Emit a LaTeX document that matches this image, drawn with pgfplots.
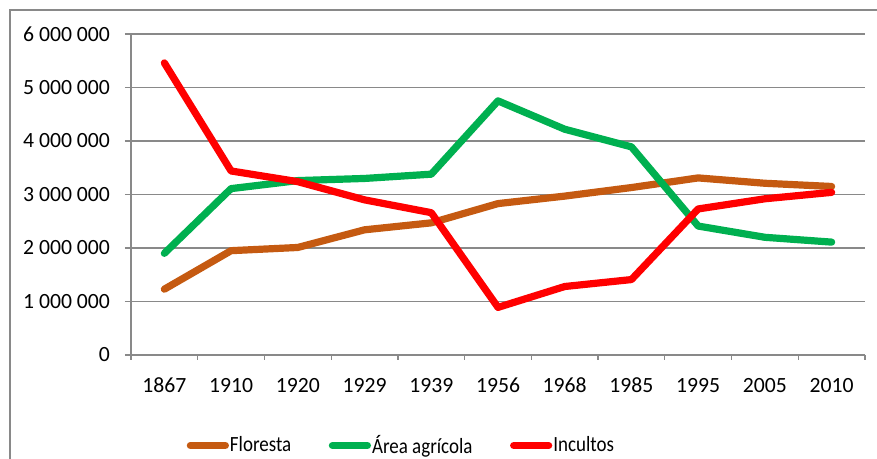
\documentclass[border=0pt]{standalone}
\usepackage{fontspec}
\setmainfont{Carlito}
\usepackage{graphicx}
\usepackage{pgfplots}
\pgfplotsset{compat=1.18}
\definecolor{cflor}{HTML}{C55A11}
\definecolor{cagr}{HTML}{00B050}
\definecolor{cinc}{HTML}{FF0000}
\definecolor{cgrid}{HTML}{898989}
\newcommand{\legtext}[1]{\scalebox{0.875}[1]{#1}}
\begin{document}
\begin{tikzpicture}
\useasboundingbox (0,0) rectangle (438.5pt,229.5pt);
\draw[cgrid, line width=0.6pt] (5pt,0) -- (5pt,224.5pt) -- (438.5pt,224.5pt);
\begin{axis}[
  at={(65.5pt,52pt)}, anchor=south west,
  scale only axis, width=367pt, height=160.5pt,
  xmin=-0.5, xmax=10.5, ymin=0, ymax=6000000,
  scaled y ticks=false,
  axis x line=bottom, axis y line=left,
  axis line style={cgrid, line width=0.6pt, -},
  xtick={0,...,10},
  xticklabels={1867,1910,1920,1929,1939,1956,1968,1985,1995,2005,2010},
  minor xtick={-0.5,0.5,...,10.5},
  major x tick style={draw=none},
  minor x tick style={cgrid, line width=0.6pt},
  minor tick length=2.5pt,
  ytick={0,1000000,...,6000000},
  yticklabels={0,1~000~000,2~000~000,3~000~000,4~000~000,5~000~000,6~000~000},
  y tick style={cgrid, line width=0.6pt},
  major tick length=3pt,
  tick align=outside,
  ymajorgrids, grid style={cgrid, line width=0.6pt},
  tick label style={font=\fontsize{10.85}{13}\selectfont, text=black},
  yticklabel style={xshift=-4pt},
  xticklabel style={yshift=-5pt},
  legend style={at={(axis description cs:0.367,-0.282)}, anchor=center, draw=none,
    font=\fontsize{10.85}{13}\selectfont, legend columns=3,
    nodes={inner sep=0pt},
    /tikz/every odd column/.append style={column sep=0.5pt},
    /tikz/every even column/.append style={column sep=18.75pt}},
  legend image code/.code={\draw[#1, line cap=round] (0pt,0pt) -- (17.5pt,0pt);},
  every axis plot/.append style={line width=3.6pt, line join=round, line cap=round},
]
\addplot[cflor] coordinates {(0,1230000) (1,1950000) (2,2010000) (3,2340000) (4,2470000) (5,2830000) (6,2970000) (7,3130000) (8,3310000) (9,3210000) (10,3150000)};
\addlegendentry{\legtext{Floresta}}
\addplot[cagr] coordinates {(0,1900000) (1,3110000) (2,3260000) (3,3300000) (4,3380000) (5,4750000) (6,4220000) (7,3890000) (8,2410000) (9,2200000) (10,2110000)};
\addlegendentry{\legtext{Área agrícola}}
\addplot[cinc] coordinates {(0,5460000) (1,3440000) (2,3240000) (3,2900000) (4,2660000) (5,890000) (6,1280000) (7,1410000) (8,2730000) (9,2920000) (10,3040000)};
\addlegendentry{\legtext{Incultos}}
\end{axis}
\end{tikzpicture}
\end{document}
